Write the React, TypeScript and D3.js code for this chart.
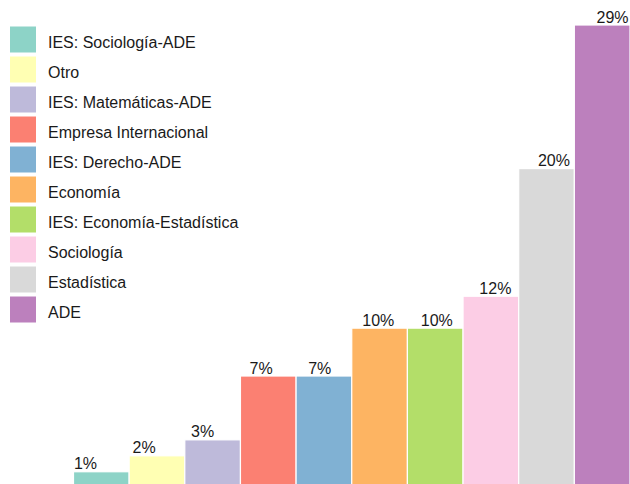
import React from "react";
import * as d3 from "d3";

const categories = [
  "IES: Sociología-ADE",
  "Otro",
  "IES: Matemáticas-ADE",
  "Empresa Internacional",
  "IES: Derecho-ADE",
  "Economía",
  "IES: Economía-Estadística",
  "Sociología",
  "Estadística",
  "ADE",
];
const counts = [1, 2, 3, 7, 7, 10, 10, 12, 20, 29];
const colors = [
  "#8dd3c7",
  "#ffffb3",
  "#bebada",
  "#fb8072",
  "#80b1d3",
  "#fdb462",
  "#b3de69",
  "#fccde5",
  "#d9d9d9",
  "#bc80bd",
];

const W = 630;
const H = 484;
const FONT = "Liberation Sans, Arial, sans-serif";

export default function App() {
  const total = d3.sum(counts);
  const pct = counts.map((c) => (c / total) * 100);

  const x = d3.scaleBand<string>().domain(categories).range([73.5, 630]).paddingInner(0);
  const xLabel = d3.scalePoint<string>().domain(categories).range([85.5, 612.5]);
  const y = d3.scaleLinear().domain([0, d3.max(pct) as number]).range([487.7, 25]);
  const legendY = d3.scaleBand<string>().domain(categories).range([24.5, 324.5]);

  return (
    <svg
      width={W}
      height={H}
      style={{ position: "absolute", left: 0, top: 0, background: "#fff" }}
      fontFamily={FONT}
    >
      <g>
        {categories.map((c, i) => (
          <rect
            key={c}
            x={x(c)}
            y={y(pct[i])}
            width={x.bandwidth()}
            height={y(0) - y(pct[i])}
            fill={colors[i]}
            stroke="#fff"
            strokeWidth={1.2}
          />
        ))}
      </g>
      <g>
        {categories.map((c, i) => (
          <text
            key={c}
            x={xLabel(c)}
            y={y(pct[i]) - 2.5}
            textAnchor="middle"
            fontSize={16}
            fill="#1a1a1a"
          >
            {Math.round(pct[i])}%
          </text>
        ))}
      </g>
      <g>
        {categories.map((c, i) => (
          <g key={c} transform={`translate(0,${legendY(c)})`}>
            <rect x={9.5} y={1.5} width={27} height={27} fill={colors[i]} stroke="#fff" strokeWidth={1} />
            <text x={48} y={23.7} fontSize={16} fill="#1a1a1a">
              {c}
            </text>
          </g>
        ))}
      </g>
    </svg>
  );
}
